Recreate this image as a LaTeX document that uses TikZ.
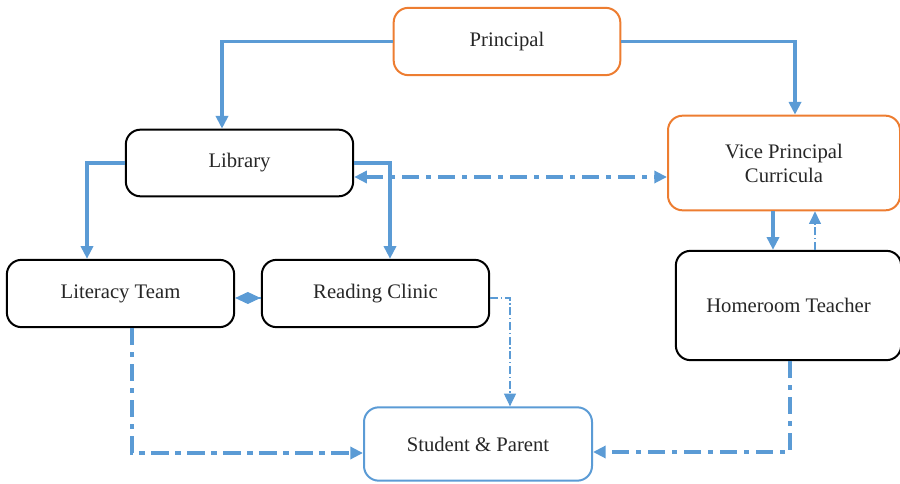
\documentclass[tikz,border=0pt]{standalone}
\usepackage{fontspec}
\setmainfont{Liberation Serif}
\usepackage{tikz}
\usetikzlibrary{arrows.meta}
\usetikzlibrary{calc}
\definecolor{linkblue}{HTML}{5B9BD5}
\definecolor{headorange}{HTML}{ED7D31}

\begin{document}
\begin{tikzpicture}[x=0.75pt, y=-0.75pt]
            \tikzset{>={Triangle[length=9.5pt, width=9pt]}}
            \tikzset{unit/.style = {draw, line width=1.5pt, rounded corners=11pt, inner sep=0pt, align=center,
                font=\fontsize{15.5}{18}\selectfont, text=black!85}}
            \tikzset{link/.style = {linkblue, line width=2.6pt, ->}}
            \tikzset{dashlink/.style = {linkblue, line width=2.6pt, ->, dash pattern=on 13pt off 5pt on 4pt off 5pt}}
            \tikzset{thinlink/.style = {linkblue, line width=0.8pt, ->, dash pattern=on 6pt off 2pt on 1pt off 2pt}}
            \useasboundingbox (0, 0) rectangle (900, 484);
            \node[unit, headorange, minimum width=170pt, minimum height=50.5pt] (prin) at (507, 41.5) {\textcolor{black!85}{Principal}};
            \node[unit, headorange, minimum width=174pt, minimum height=71pt] (vp) at (784, 163) {\textcolor{black!85}{Vice Principal}\\\textcolor{black!85}{Curricula}};
            \node[unit, minimum width=170.5pt, minimum height=50pt] (lib) at (239.5, 163) {Library};
            \node[unit, minimum width=170.5pt, minimum height=50.5pt] (lit) at (120.5, 293.5) {Literacy Team};
            \node[unit, minimum width=170.5pt, minimum height=50.5pt] (read) at (375.5, 293.5) {Reading Clinic};
            \node[unit, minimum width=169pt, minimum height=82pt] (home) at (788.5, 305.5) {Homeroom Teacher};
            \node[unit, linkblue, minimum width=171pt, minimum height=55pt] (stud) at (478, 444) {\textcolor{black!85}{Student \& Parent}};
            % solid links
            \draw[link] (prin.west) -| ($(lib.north)+(-17.5, 0)$);
            \draw[link] (prin.east) -| ($(vp.north)+(11, 0)$);
            \draw[link] (lib.west) -| ($(lit.north)+(-33.5, 0)$);
            \draw[link] (lib.east) -| ($(read.north)+(14.5, 0)$);
            \coordinate (vpdown) at ($(vp.south)+(-11, 0)$);
            \draw[link] (vpdown) -- (vpdown |- home.north);
            % dotted links
            \draw[dashlink, <->] ($(lib.east)+(0, 14)$) -- ($(vp.west)+(0, 14)$);
            \coordinate (homeup) at ($(home.north)+(26.5, 0)$);
            \draw[thinlink] (homeup) -- (homeup |- vp.south);
            \draw[linkblue, line width=0.8pt, -{Diamond[length=19pt, width=9pt]}] (read.west |- 0, 298) -- (lit.east |- 0, 298);
            \draw[thinlink] ($(read.east)+(0, 4.5)$) -| ($(stud.north)+(32, 0)$);
            \draw[dashlink] ($(lit.south)+(11.5, 0)$) |- ($(stud.west)+(0, 9)$);
            \draw[dashlink] ($(home.south)+(1.5, 0)$) |- ($(stud.east)+(0, 8)$);
        \end{tikzpicture}
\end{document}
